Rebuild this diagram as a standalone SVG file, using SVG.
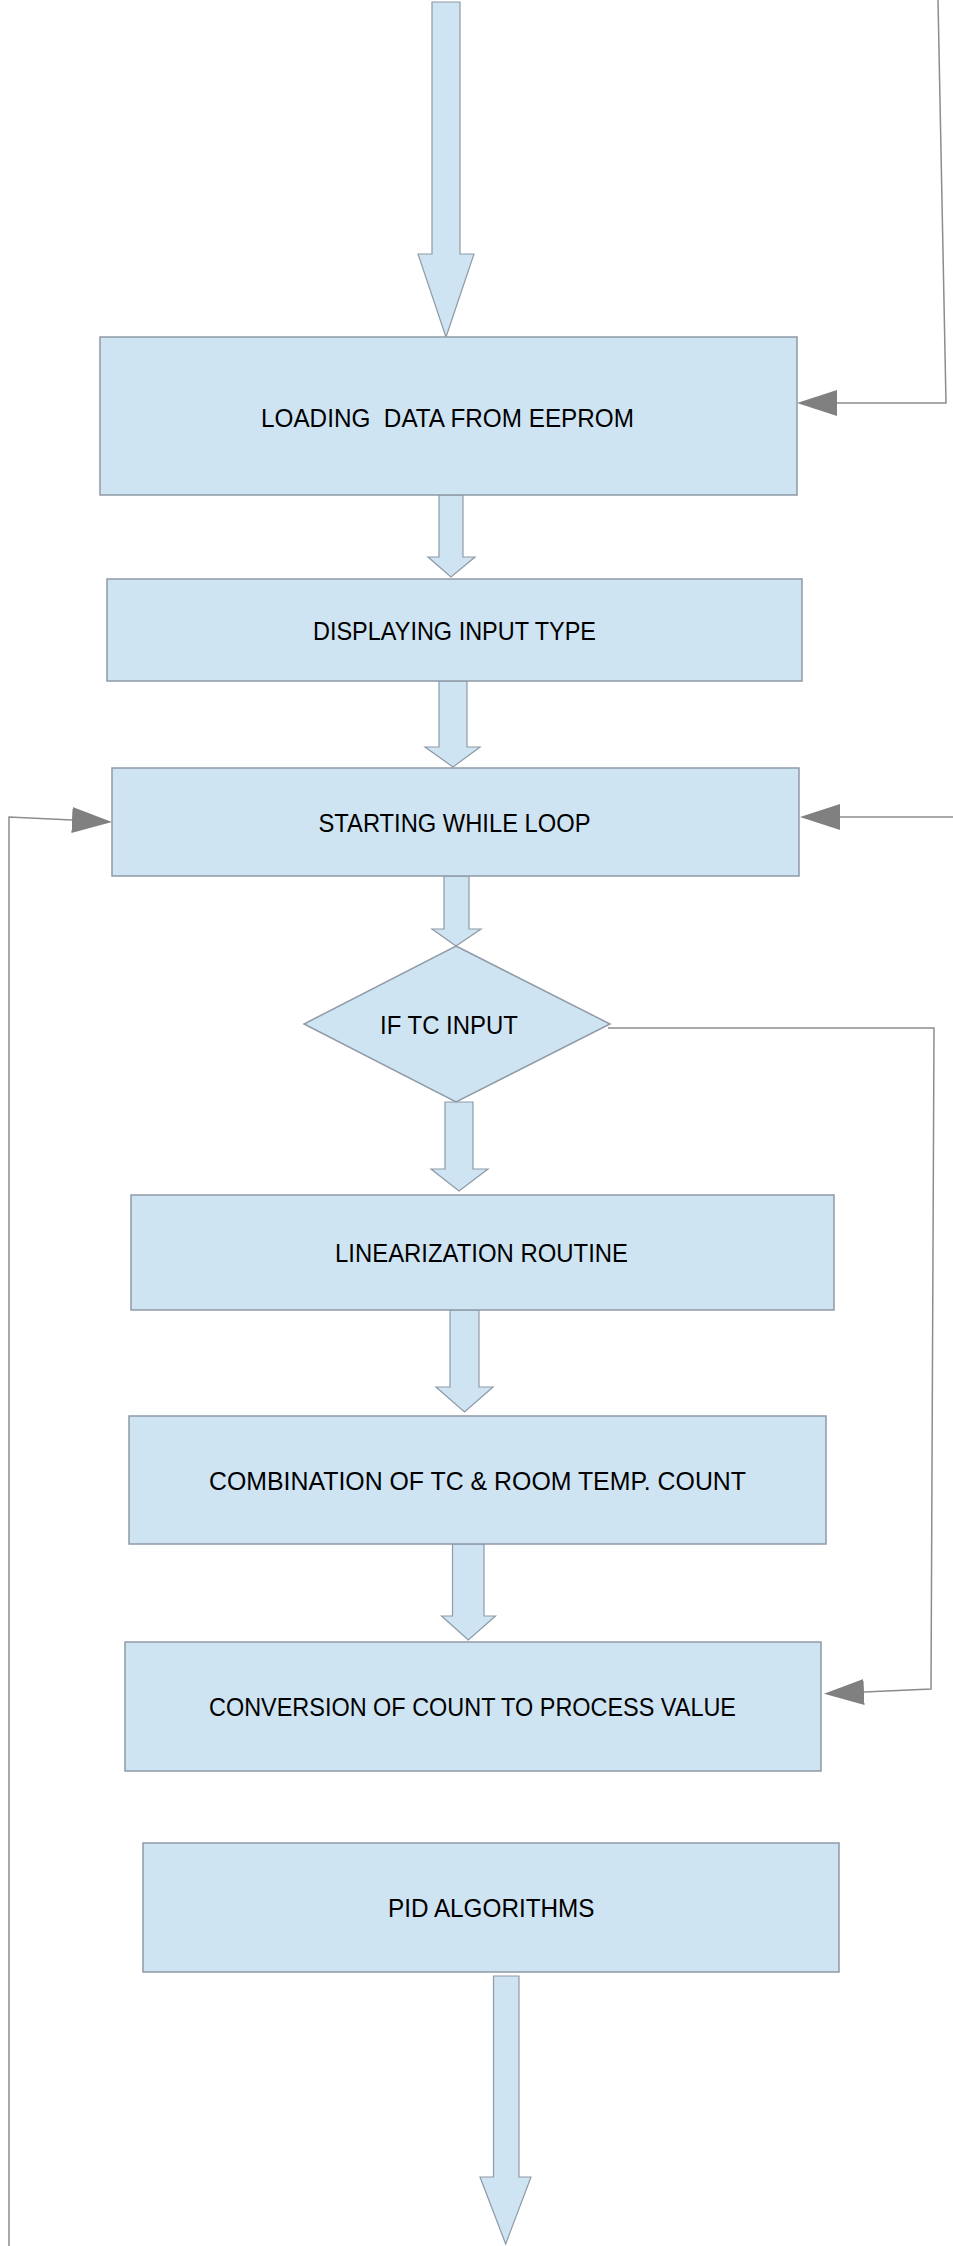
<svg xmlns="http://www.w3.org/2000/svg" width="953" height="2246" viewBox="0 0 953 2246">
<defs>
<style>
.box{fill:#cfe4f3;stroke:#8e9aa6;stroke-width:1.5}
.blk{fill:#cfe4f3;stroke:#8e9aa6;stroke-width:1.2}
.ln{fill:none;stroke:#8c8c8c;stroke-width:1.5}
.t{font-family:"Liberation Sans",Arial,sans-serif;font-size:25px;fill:#000;text-anchor:start}
</style>
<marker id="ah" viewBox="0 0 40 26" refX="0" refY="13" markerWidth="40" markerHeight="26" markerUnits="userSpaceOnUse" orient="auto">
<path d="M0,0 L40,13 L0,26 Z" fill="#808080"/>
</marker>
</defs>
<rect width="953" height="2246" fill="#ffffff"/>
<g id="connectors">
<polygon class="blk" points="432,2 460,2 460,254 474,254 446,337 418,254 432,254"/>
<polygon class="blk" points="439,495 463,495 463,557 475,557 451,577 428,557 439,557"/>
<polygon class="blk" points="439,681 467,681 467,747 480,747 453,767 425,747 439,747"/>
<polygon class="blk" points="444,876 469,876 469,929 481,929 456,946 432,929 444,929"/>
<polygon class="blk" points="445,1102 473,1102 473,1169 488,1169 459,1191 431,1169 445,1169"/>
<polygon class="blk" points="450,1310 479,1310 479,1387 493,1387 464.5,1412 436,1387 450,1387"/>
<polygon class="blk" points="452.5,1544 484,1544 484,1616 495.5,1616 468.3,1640 441.6,1616 452.5,1616"/>
<polygon class="blk" points="493.5,1976 519,1976 519,2177 531,2177 505.7,2244 480,2177 493.5,2177"/>
<polyline class="ln" points="938,0 946,403 837,403" marker-end="url(#ah)"/>
<polyline class="ln" points="9,2246 9,817 72,820" marker-end="url(#ah)"/>
<polyline class="ln" points="953,817 840,817" marker-end="url(#ah)"/>
<polyline class="ln" points="608,1028 934,1028 931,1689 864,1692" marker-end="url(#ah)"/>
</g>
<g id="n-loading">
<rect class="box" x="100" y="337" width="697" height="158"/>
<text class="t" x="261" y="427" textLength="373" lengthAdjust="spacingAndGlyphs" xml:space="preserve">LOADING  DATA FROM EEPROM</text>
</g>
<g id="n-displaying">
<rect class="box" x="107" y="579" width="695" height="102"/>
<text class="t" x="313" y="640" textLength="283" lengthAdjust="spacingAndGlyphs">DISPLAYING INPUT TYPE</text>
</g>
<g id="n-starting">
<rect class="box" x="112" y="768" width="687" height="108"/>
<text class="t" x="318.5" y="832" textLength="272" lengthAdjust="spacingAndGlyphs">STARTING WHILE LOOP</text>
</g>
<g id="n-iftc">
<polygon class="box" points="456,946 610,1024 456,1102 304,1024"/>
<text class="t" x="380" y="1033.5" textLength="138" lengthAdjust="spacingAndGlyphs">IF TC INPUT</text>
</g>
<g id="n-linearization">
<rect class="box" x="131" y="1195" width="703" height="115"/>
<text class="t" x="335" y="1262" textLength="293" lengthAdjust="spacingAndGlyphs">LINEARIZATION ROUTINE</text>
</g>
<g id="n-combination">
<rect class="box" x="129" y="1416" width="697" height="128"/>
<text class="t" x="209" y="1489.5" textLength="537" lengthAdjust="spacingAndGlyphs">COMBINATION OF TC &amp; ROOM TEMP. COUNT</text>
</g>
<g id="n-conversion">
<rect class="box" x="125" y="1642" width="696" height="129"/>
<text class="t" x="209" y="1716" textLength="527" lengthAdjust="spacingAndGlyphs">CONVERSION OF COUNT TO PROCESS VALUE</text>
</g>
<g id="n-pid">
<rect class="box" x="143" y="1843" width="696" height="129"/>
<text class="t" x="388" y="1916.5" textLength="206.5" lengthAdjust="spacingAndGlyphs">PID ALGORITHMS</text>
</g>
</svg>
